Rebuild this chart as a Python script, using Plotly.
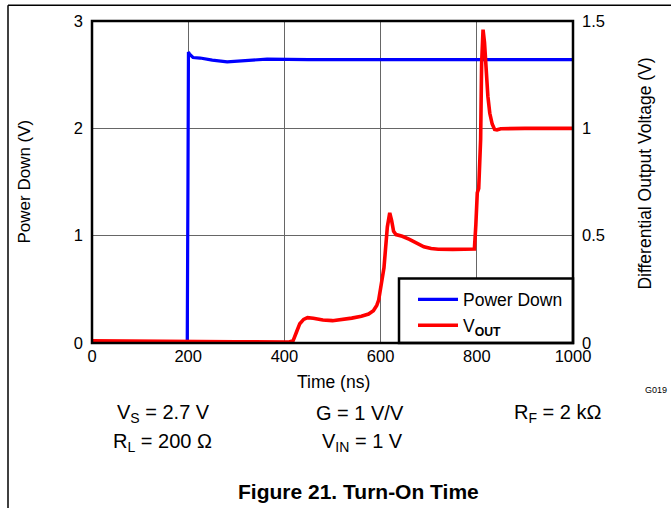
import plotly.graph_objects as go

# ---- data ----
pd_time = [0, 100, 198, 199.5, 200.5, 203, 210, 225, 250, 281, 310, 364, 450, 600, 800, 1000]
pd_volt = [0.0, 0.0, 0.0, 1.5, 2.71, 2.69, 2.66, 2.655, 2.635, 2.62, 2.63, 2.645, 2.64, 2.64, 2.64, 2.64]

vout_time = [0, 100, 200, 300, 410, 418, 425, 432, 440, 448, 460, 480, 500, 520, 540, 560, 575,
             585, 592, 596, 601, 607, 614, 619, 623, 627, 632, 645, 660, 675, 690, 705, 720,
             750, 780, 795, 798, 801, 804, 806, 808, 810, 813, 816, 819, 823, 827, 832, 837,
             842, 850, 875, 900, 950, 1000]
vout_volt = [0.01, 0.01, 0.008, 0.006, 0.005, 0.01, 0.05, 0.09, 0.11, 0.118, 0.115, 0.107, 0.104,
             0.108, 0.116, 0.125, 0.135, 0.15, 0.175, 0.2, 0.27, 0.35, 0.54, 0.606, 0.57, 0.52,
             0.505, 0.497, 0.483, 0.465, 0.448, 0.44, 0.437, 0.436, 0.437, 0.438, 0.55, 0.70,
             0.72, 0.80, 0.95, 1.30, 1.46, 1.40, 1.26, 1.15, 1.07, 1.02, 0.995, 0.993, 0.998,
             1.0, 1.0, 1.0, 1.0]

x_ticks = [0, 200, 400, 600, 800, 1000]
y_ticks = [0, 1, 2, 3]
y2_ticks = [0, 0.5, 1, 1.5]
y2_labels = ["0", "0.5", "1", "1.5"]

FONT = "Arial, Liberation Sans, sans-serif"
TICK = 16.5

# plot-area pixel geometry
L, R, T, B = 92, 573, 18, 343
W, H = 671, 508


def px2x(p):
    return (p - L) / (R - L)


def px2y(p):
    return (B - p) / (B - T)


fig = go.Figure()
fig.add_trace(go.Scatter(x=pd_time, y=pd_volt, mode="lines", name="Power Down",
                         line=dict(color="#0000ff", width=3.2)))
fig.add_trace(go.Scatter(x=vout_time, y=vout_volt, mode="lines", name="V<sub><b>OUT</b></sub>",
                         yaxis="y2", line=dict(color="#ff0000", width=3.6)))

axis_common = dict(showgrid=True, gridcolor="#666666", gridwidth=1, zeroline=False,
                   showline=False, ticks="", tickfont=dict(family=FONT, size=TICK, color="black"))

fig.update_layout(
    width=W, height=H,
    margin=dict(l=L, r=W - R, t=T, b=H - B),
    paper_bgcolor="white", plot_bgcolor="white",
    font=dict(family=FONT, color="black"),
    xaxis=dict(range=[0, 1000], tickvals=x_ticks, ticklabelstandoff=1, **axis_common),
    yaxis=dict(range=[0, 3], tickvals=y_ticks, ticklabelstandoff=8, **axis_common),
    yaxis2=dict(range=[0, 1.5], tickvals=y2_ticks, ticktext=y2_labels, overlaying="y",
                side="right", showgrid=False, zeroline=False, showline=False, ticks="",
                ticklabelstandoff=8, tickfont=dict(family=FONT, size=TICK, color="black")),
    legend=dict(x=px2x(413), y=px2y(281), xanchor="left", yanchor="top",
                bgcolor="rgba(0,0,0,0)", borderwidth=0,
                font=dict(family=FONT, size=17.5, color="black"),
                itemwidth=40, tracegroupgap=0),
    showlegend=True,
)

# legend box
fig.add_shape(type="rect", xref="paper", yref="paper", x0=px2x(399), y0=0, x1=1, y1=px2y(278),
              line=dict(color="black", width=2.5), fillcolor="white", layer="above")

# frame around plot area
fig.add_shape(type="rect", xref="paper", yref="paper", x0=0, y0=0, x1=1, y1=1,
              line=dict(color="black", width=2.5), layer="above")

# page border lines (top and left)
fig.add_shape(type="line", xref="paper", yref="paper", x0=px2x(8), x1=px2x(W + 5),
              y0=px2y(2), y1=px2y(2), line=dict(color="black", width=1.5))
fig.add_shape(type="line", xref="paper", yref="paper", x0=px2x(8), x1=px2x(8),
              y0=px2y(2), y1=px2y(H + 10), line=dict(color="black", width=1.5))


def ann(text, xp, yp, size, **kw):
    fig.add_annotation(text=text, xref="paper", yref="paper", x=px2x(xp), y=px2y(yp),
                       xanchor="center", yanchor="middle", showarrow=False,
                       font=dict(family=FONT, size=size, color="black"), **kw)


ann("Time (ns)", 333, 382, 17.5)
ann("Power Down (V)", 25, 180, 17, textangle=-90)
ann("Differential Output Voltage (V)", 645, 172, 17.5, textangle=-90)
ann("G019", 656, 390, 9)
ann("V<sub>S</sub> = 2.7 V", 163, 414, 20)
ann("G = 1 V/V", 360, 414, 20)
ann("R<sub>F</sub> = 2 kΩ", 557, 414, 20)
ann("R<sub>L</sub> = 200 Ω", 162, 443, 20)
ann("V<sub>IN</sub> = 1 V", 362, 443, 20)
ann("<b>Figure 21. Turn-On Time</b>", 358, 493, 21)

fig.write_html("out.html", config={"displayModeBar": False},
               post_script="document.body.style.margin='0px';")
